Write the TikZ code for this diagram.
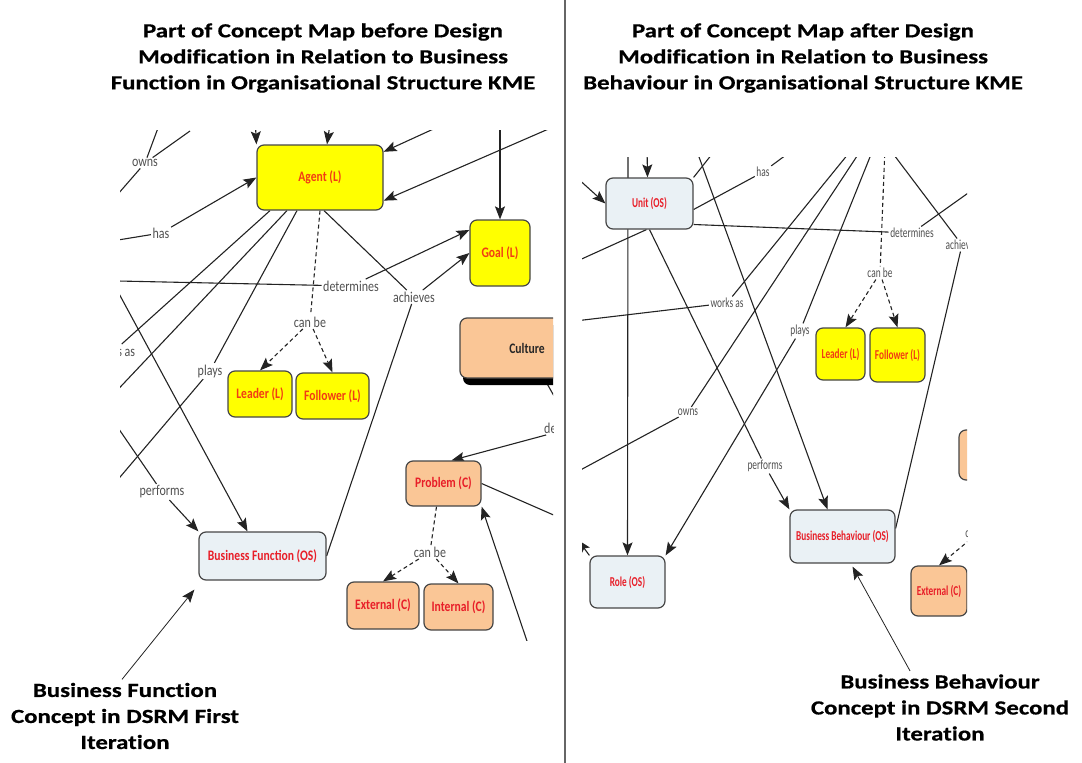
\documentclass[tikz,border=0pt]{standalone}
\usepackage{fontspec}
\setmainfont{Carlito}
\newfontfamily\headfont[FakeStretch=1.24,FakeBold=0.6,Ligatures=NoCommon]{Carlito}
\newfontfamily\narrowfont[FakeStretch=0.8]{Carlito}
\newfontfamily\slimfont[FakeStretch=0.68]{Carlito}
\usetikzlibrary{arrows.meta,shadows}
\pgfdeclarelayer{background}
\pgfsetlayers{background,main}

\definecolor{lyellow}{RGB}{255,255,0}
\definecolor{lred}{RGB}{242,60,20}
\definecolor{osred}{RGB}{232,30,40}
\definecolor{osblue}{RGB}{234,241,245}
\definecolor{cpeach}{RGB}{250,198,150}
\definecolor{boxline}{RGB}{70,70,70}
\definecolor{phrasegray}{RGB}{80,80,80}
\definecolor{linkgray}{RGB}{35,35,35}

\tikzset{
  heading/.style={align=center, font={\headfont\bfseries\fontsize{20}{26}\selectfont}},
  concept/.style={draw=boxline, line width=1.2pt, rounded corners=7pt, inner sep=1pt},
  lcon/.style={concept, fill=lyellow, text=lred, font={\narrowfont\bfseries\fontsize{14.5}{16}\selectfont}},
  oscon/.style={concept, fill=osblue, text=osred, font={\narrowfont\bfseries\fontsize{14.5}{16}\selectfont}},
  ccon/.style={concept, fill=cpeach, text=osred, font={\narrowfont\bfseries\fontsize{14.5}{16}\selectfont}},
  rlcon/.style={lcon, font={\slimfont\bfseries\fontsize{13.6}{15}\selectfont}},
  roscon/.style={oscon, font={\slimfont\bfseries\fontsize{13.6}{15}\selectfont}},
  rccon/.style={ccon, font={\slimfont\bfseries\fontsize{13.6}{15}\selectfont}},
  phrase/.style={text=phrasegray, inner sep=1.5pt, font={\narrowfont\fontsize{15}{17}\selectfont}},
  rphrase/.style={phrase, font={\slimfont\fontsize{13.8}{15}\selectfont}},
  link/.style={draw=linkgray, line width=1.1pt},
  arr/.style={link, -{Stealth[length=13pt,width=10pt,inset=2.5pt]}},
  dlink/.style={link, dash pattern=on 4pt off 3pt},
  darr/.style={arr, dash pattern=on 4pt off 3pt},
  note/.style={draw=linkgray, line width=0.8pt, -{Stealth[length=13pt,width=10pt,inset=2.5pt]}},
}

\begin{document}
\begin{tikzpicture}[x=1pt,y=-1pt]
\useasboundingbox (0,0) rectangle (1082,763);

\node[heading] (headL) at (323,58) {Part of Concept Map before Design\\Modification in Relation to Business\\Function in Organisational Structure KME};
\node[heading] (headR) at (803,58) {Part of Concept Map after Design\\Modification in Relation to Business\\Behaviour in Organisational Structure KME};
\draw[draw=gray!80!black, line width=1.6pt] (565,0) -- (565,763);

% before
\begin{scope}
\clip (120,130) rectangle (553,640);
\node[lcon, minimum width=126, minimum height=65] (agentL) at (320,177.5){Agent (L)};
\node[lcon, minimum width=60, minimum height=66] (goalL) at (500,253){Goal (L)};
\node[ccon, text=black!85, minimum width=134, minimum height=60,
  drop shadow={shadow xshift=3pt, shadow yshift=-7pt, fill=black, opacity=1}] (cultureL) at (527,348){Culture};
\node[lcon, minimum width=64, minimum height=46] (leaderL) at (260,394){Leader (L)};
\node[lcon, minimum width=73, minimum height=46] (followerL) at (332.5,396){Follower (L)};
\node[oscon, minimum width=127, minimum height=48] (bfL) at (262.5,556){Business Function (OS)};
\node[ccon, minimum width=75, minimum height=45] (problemL) at (443.5,483.5){Problem (C)};
\node[ccon, minimum width=72, minimum height=47] (externalL) at (383,605.5){External (C)};
\node[ccon, minimum width=69, minimum height=46] (internalL) at (458.5,607){Internal (C)};
\node[phrase] (ownsL) at (145,163){owns};
\node[phrase] (hasL) at (161,233){has};
\node[phrase] (detL) at (351,286){determines};
\node[phrase] (achL) at (414,297){achieves};
\node[phrase] (canL) at (310,322){can be};
\node[phrase] (worksL) at (114,351){works as};
\node[phrase] (playsL) at (210,371){plays};
\node[phrase] (perfL) at (162,492){performs};
\node[phrase] (deL) at (572,428){determines};
\node[phrase] (can2L) at (430,552){can be};
\end{scope}

\coordinate (o1) at (118,194);
\coordinate (o2) at (190,131);
\coordinate (o3) at (158,128);
\coordinate (h1) at (118,240);
\coordinate (d1) at (118,281);
\coordinate (w2) at (108,400);
\coordinate (p2) at (115,483);
\coordinate (f1) at (110,277);
\coordinate (pf1) at (112,419);
\coordinate (t1) at (255,115);
\coordinate (t2) at (332,110);
\coordinate (t3) at (440,126);
\coordinate (t4) at (560,124);
\coordinate (t5) at (500,120);
\coordinate (pr1) at (565,520);
\coordinate (pr2) at (530,650);

\begin{pgfonlayer}{background}
\begin{scope}
\clip (120,130) rectangle (553,640);
\draw[link](o1) -- (ownsL);
\draw[link](ownsL) -- (o2);
\draw[link](ownsL) -- (o3);
\draw[link](h1) -- (hasL);
\draw[arr](hasL) -- (agentL.west);
\draw[link](d1) -- (detL);
\draw[arr](detL) -- (goalL.143);
\draw[link]([xshift=4pt]agentL.south) -- (achL);
\draw[arr](achL) -- (goalL.west);
\draw[link](bfL.east) -- (achL);
\draw[dlink](agentL.south) -- (canL);
\draw[darr](canL) -- (leaderL.north);
\draw[darr](canL) -- (followerL.north);
\draw[link]([xshift=-50pt]agentL.south) -- (worksL);
\draw[link]([xshift=-33pt]agentL.south) -- (w2);
\draw[link]([xshift=-23pt]agentL.south) -- (playsL);
\draw[link](playsL) -- (p2);
\draw[arr](f1) -- ([xshift=-15pt]bfL.north);
\draw[link](pf1) -- (perfL);
\draw[arr](perfL) -- (bfL.north west);
\draw[arr](t1) -- (agentL.north west);
\draw[arr](t2) -- ([xshift=7pt]agentL.north);
\draw[arr](t3) -- (agentL.22);
\draw[arr](t4) -- (agentL.-20);
\draw[arr](t5) -- (goalL.north);
\draw[link](cultureL) -- (deL);
\draw[arr](deL) -- ([xshift=8pt]problemL.north);
\draw[link](problemL.east) -- (pr1);
\draw[arr](pr2) -- (problemL.south east);
\draw[dlink]([xshift=-7pt]problemL.south) -- (can2L);
\draw[darr](can2L) -- (externalL.north);
\draw[darr](can2L) -- (internalL.north);
\end{scope}
\end{pgfonlayer}

% after
\begin{scope}
\clip (582,157) rectangle (967,640);
\node[roscon, minimum width=87, minimum height=51] (unitR) at (649.5,203.5){Unit (OS)};
\node[roscon, minimum width=75, minimum height=52] (roleR) at (627.5,582){Role (OS)};
\node[roscon, minimum width=105, minimum height=53] (bbR) at (842.5,536.5){Business Behaviour (OS)};
\node[rlcon, minimum width=49, minimum height=52] (leaderR) at (840.5,354){Leader (L)};
\node[rlcon, minimum width=55, minimum height=54] (followerR) at (897.5,355){Follower (L)};
\node[rccon, minimum width=56, minimum height=50] (externalR) at (939,591){External (C)};
\node[rccon, minimum width=66, minimum height=50] (problemR) at (992,455){Problem (C)};
\node[rphrase] (hasR) at (763,172){has};
\node[rphrase] (detR) at (912,233){determines};
\node[rphrase] (worksR) at (727,303){works as};
\node[rphrase] (ownsR) at (688,412){owns};
\node[rphrase] (playsR) at (800,331){plays};
\node[rphrase] (canR) at (880,273){can be};
\node[rphrase] (achR) at (962,245){achieves};
\node[rphrase] (perfR) at (765,466){performs};
\node[rphrase] (can2R) at (978,533){can be};
\end{scope}

\coordinate (u1) at (628,145);
\coordinate (u2) at (647,145);
\coordinate (u3) at (575,176);
\coordinate (h2) at (790,152);
\coordinate (x1) at (716,149);
\coordinate (x3) at (695,146);
\coordinate (u4) at (575,262);
\coordinate (dt2) at (978,186);
\coordinate (w3) at (575,321);
\coordinate (t6) at (853,148);
\coordinate (t7) at (863,147);
\coordinate (w4) at (573,474);
\coordinate (t8) at (874,147);
\coordinate (t9) at (885,147);
\coordinate (t10) at (888,147);
\coordinate (r9) at (578,540);

\begin{pgfonlayer}{background}
\begin{scope}
\clip (582,157) rectangle (967,640);
\draw[arr](u1) -- (roleR.north);
\draw[arr](u2) -- ([xshift=-2pt]unitR.north);
\draw[arr](u3) -- (unitR.west);
\draw[link]([yshift=-6pt]unitR.east) -- (hasR);
\draw[link](hasR) -- (h2);
\draw[link](unitR.north east) -- (x1);
\draw[arr](x3) -- ([xshift=-15pt]bbR.north);
\draw[link]([xshift=-3pt]unitR.south) -- (u4);
\draw[link]([yshift=-21pt]unitR.east) -- (detR);
\draw[link](detR) -- (dt2);
\draw[link](unitR.south) -- (perfR);
\draw[arr](perfR) -- (bbR.north west);
\draw[link](w3) -- (worksR);
\draw[link](worksR) -- (t6);
\draw[link](t7) -- (ownsR);
\draw[link](ownsR) -- (w4);
\draw[link](t8) -- (playsR);
\draw[arr](playsR) -- (roleR.north east);
\draw[dlink](t9) -- (canR);
\draw[darr](canR) -- ([xshift=5pt]leaderR.north);
\draw[darr](canR) -- (followerR.north);
\draw[link](t10) -- (achR);
\draw[link](achR) -- ([yshift=8pt]bbR.east);
\draw[darr](can2R) -- (externalR.north);
\draw[arr](roleR.north west) -- (r9);
\end{scope}
\end{pgfonlayer}

\node[heading] (annL) at (125,716){Business Function\\Concept in DSRM First\\Iteration};
\node[heading] (annR) at (940,707.5){Business Behaviour\\Concept in DSRM Second\\Iteration};
\draw[note]([xshift=-3pt]annL.north) -- ([xshift=-4pt,yshift=-9pt]bfL.south west);
\draw[note]([xshift=-30pt]annR.north) -- ([xshift=10pt,yshift=-3pt]bbR.south);
\end{tikzpicture}
\end{document}
